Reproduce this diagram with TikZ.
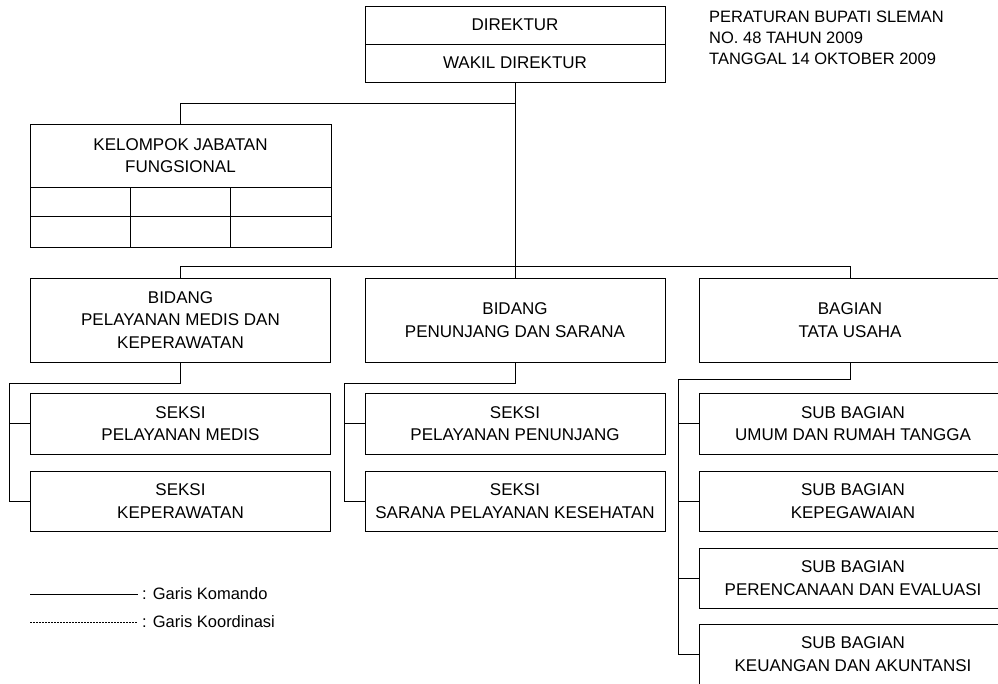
\documentclass[tikz,border=0pt]{standalone}
\usepackage{fontspec}
\setmainfont{Liberation Sans}
\begin{document}
\begin{tikzpicture}[x=1pt,y=-1pt,
  line/.style={line width=1pt, draw=black},
  box/.style={draw=black, line width=1pt, rectangle, inner sep=0pt, align=center,
    font=\fontsize{17}{22.5}\selectfont},
  hdr/.style={anchor=base west, inner sep=0pt, font=\fontsize{16.5}{21}\selectfont},
  leg/.style={anchor=west, inner sep=0pt, font=\fontsize{16.5}{19}\selectfont}]
\useasboundingbox (0,0) rectangle (998,683);
\clip (0,0) rectangle (998,683);

% top
\node[box, minimum width=300, minimum height=38] (dir) at (515,25) {DIREKTUR};
\node[box, minimum width=300, minimum height=38] (wakil) at (515,63) {WAKIL DIREKTUR};

% header
\node[hdr] (h1) at (709,22) {PERATURAN BUPATI SLEMAN};
\node[hdr] (h2) at (709,43) {NO. 48 TAHUN 2009};
\node[hdr] (h3) at (709,64) {TANGGAL 14 OKTOBER 2009};

% kelompok jabatan fungsional
\node[box, minimum width=301, minimum height=63] (kjf) at (180.5,155.5) {KELOMPOK JABATAN\\FUNGSIONAL};
\draw[line] (30,187) rectangle (331,247);
\draw[line] (30,216) -- (331,216);
\draw[line] (130,187) -- (130,247);
\draw[line] (230,187) -- (230,247);

% bidang
\node[box, minimum width=300, minimum height=84] (b1) at (180.5,320) {BIDANG\\PELAYANAN MEDIS DAN\\KEPERAWATAN};
\node[box, minimum width=300, minimum height=84] (b2) at (515,320) {BIDANG\\PENUNJANG DAN SARANA};
\node[box, minimum width=302, minimum height=84] (b3) at (850,320) {BAGIAN\\TATA USAHA};

% seksi
\node[box, minimum width=300, minimum height=61] (s1) at (180.5,423.5) {SEKSI\\PELAYANAN MEDIS};
\node[box, minimum width=300, minimum height=60] (s2) at (180.5,501) {SEKSI\\KEPERAWATAN};
\node[box, minimum width=300, minimum height=61] (m1) at (515,423.5) {SEKSI\\PELAYANAN PENUNJANG};
\node[box, minimum width=300, minimum height=60] (m2) at (515,501) {SEKSI\\SARANA PELAYANAN KESEHATAN};

% sub bagian
\node[box, minimum width=308, minimum height=61] (r1) at (853,423.5) {SUB BAGIAN\\UMUM DAN RUMAH TANGGA};
\node[box, minimum width=308, minimum height=60] (r2) at (853,501) {SUB BAGIAN\\KEPEGAWAIAN};
\node[box, minimum width=308, minimum height=60] (r3) at (853,578) {SUB BAGIAN\\PERENCANAAN DAN EVALUASI};
\node[box, minimum width=308, minimum height=60] (r4) at (853,654) {SUB BAGIAN\\KEUANGAN DAN AKUNTANSI};

% connectors
\coordinate (kbus) at (515,103);
\coordinate (bus) at (515,266);
\draw[line] (wakil.south) -- (b2.north);
\draw[line] (kjf.north) |- (kbus);
\draw[line] (b1.north) -- (b1.north |- bus) -- (b3.north |- bus) -- (b3.north);

\coordinate (lb) at (9,383);
\draw[line] (b1.south) |- (lb) -- (lb |- s2.west) -- (s2.west);
\draw[line] (lb |- s1.west) -- (s1.west);

\coordinate (mb) at (344,383);
\draw[line] (b2.south) |- (mb) -- (mb |- m2.west) -- (m2.west);
\draw[line] (mb |- m1.west) -- (m1.west);

\coordinate (rb) at (678,379);
\draw[line] (b3.south) |- (rb) -- (rb |- r4.west) -- (r4.west);
\draw[line] (rb |- r1.west) -- (r1.west);
\draw[line] (rb |- r2.west) -- (r2.west);
\draw[line] (rb |- r3.west) -- (r3.west);

% legend
\node[leg] (lk) at (142,594) {: Garis Komando};
\node[leg] (lo) at (142,622) {: Garis Koordinasi};
\coordinate (lk0) at (30,594);
\coordinate (lk1) at (138,594);
\coordinate (lo0) at (30,622);
\coordinate (lo1) at (138,622);
\draw[line, line width=0.8pt] (lk0) -- (lk1);
\draw[line, line width=0.8pt, dash pattern=on 1.5pt off 1.5pt] (lo0) -- (lo1);
\end{tikzpicture}
\end{document}
